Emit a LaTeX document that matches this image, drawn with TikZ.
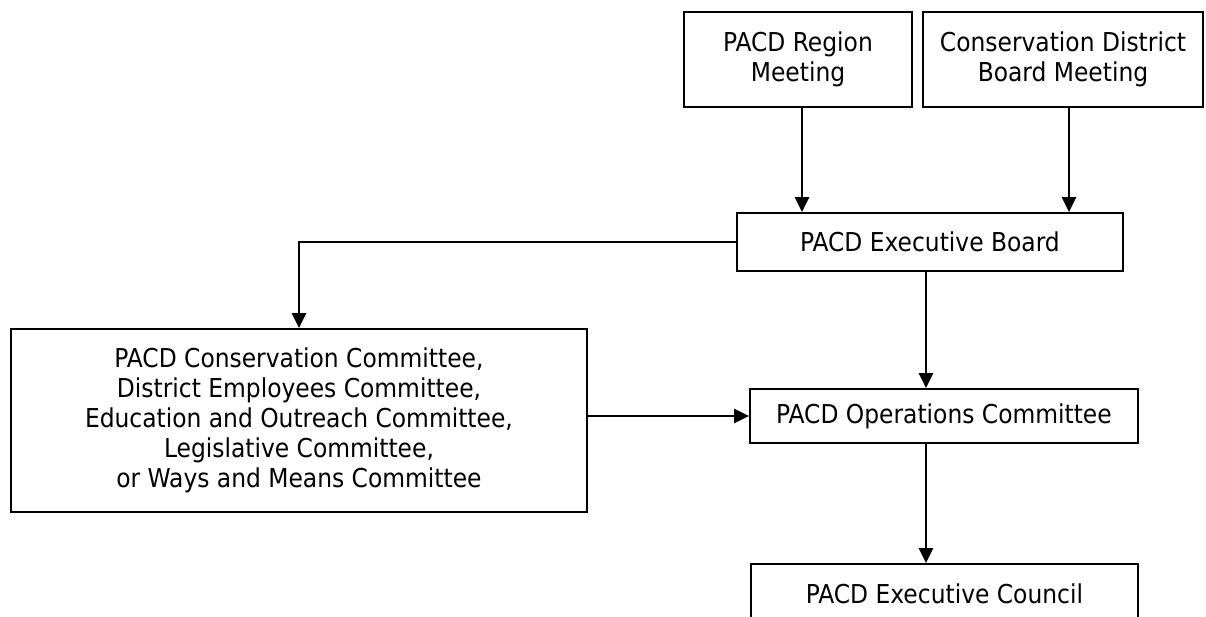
\documentclass[tikz,border=0pt]{standalone}
\usepackage{fontspec}
\setmainfont{DejaVu Sans Condensed}
\usetikzlibrary{arrows.meta}

\begin{document}
\begin{tikzpicture}[x=1pt,y=-1pt,
    stage/.style={draw,line width=1.8pt,align=center,inner sep=0pt,
      font=\fontsize{26}{30}\selectfont},
    flow/.style={line width=2.4pt,-{Triangle[length=15pt,width=14pt]}}]
    \useasboundingbox (0,0) rectangle (1206,617);
    \node[stage,minimum width=228pt,minimum height=95pt] (region) at (798,59.5) {PACD Region\\Meeting};
    \node[stage,minimum width=280pt,minimum height=95pt] (district) at (1063,59.5) {Conservation District\\Board Meeting};
    \node[stage,minimum width=386pt,minimum height=58pt] (board) at (930,242) {PACD Executive Board};
    \node[stage,minimum width=576pt,minimum height=183pt] (comm) at (299,420.5)
      {PACD Conservation Committee,\\District Employees Committee,\\Education and Outreach Committee,\\Legislative Committee,\\or Ways and Means Committee};
    \node[stage,minimum width=388pt,minimum height=54pt] (ops) at (944,416) {PACD Operations Committee};
    \node[stage,minimum width=387pt,minimum height=60pt] (council) at (944.5,594) {PACD Executive Council};
    % meetings feed the board
    \draw[flow] ([xshift=4pt]region.south) -- ([xshift=4pt]region.south |- board.north);
    \draw[flow] ([xshift=6pt]district.south) -- ([xshift=6pt]district.south |- board.north);
    % board to committees and operations
    \draw[flow] (board.west) -| (comm.north);
    \draw[flow] ([xshift=-4pt]board.south) -- ([xshift=-4pt]board.south |- ops.north);
    \draw[flow] (comm.east |- ops.west) -- (ops.west);
    \draw[flow] ([xshift=-18pt]ops.south) -- ([xshift=-18pt]ops.south |- council.north);
\end{tikzpicture}
\end{document}
